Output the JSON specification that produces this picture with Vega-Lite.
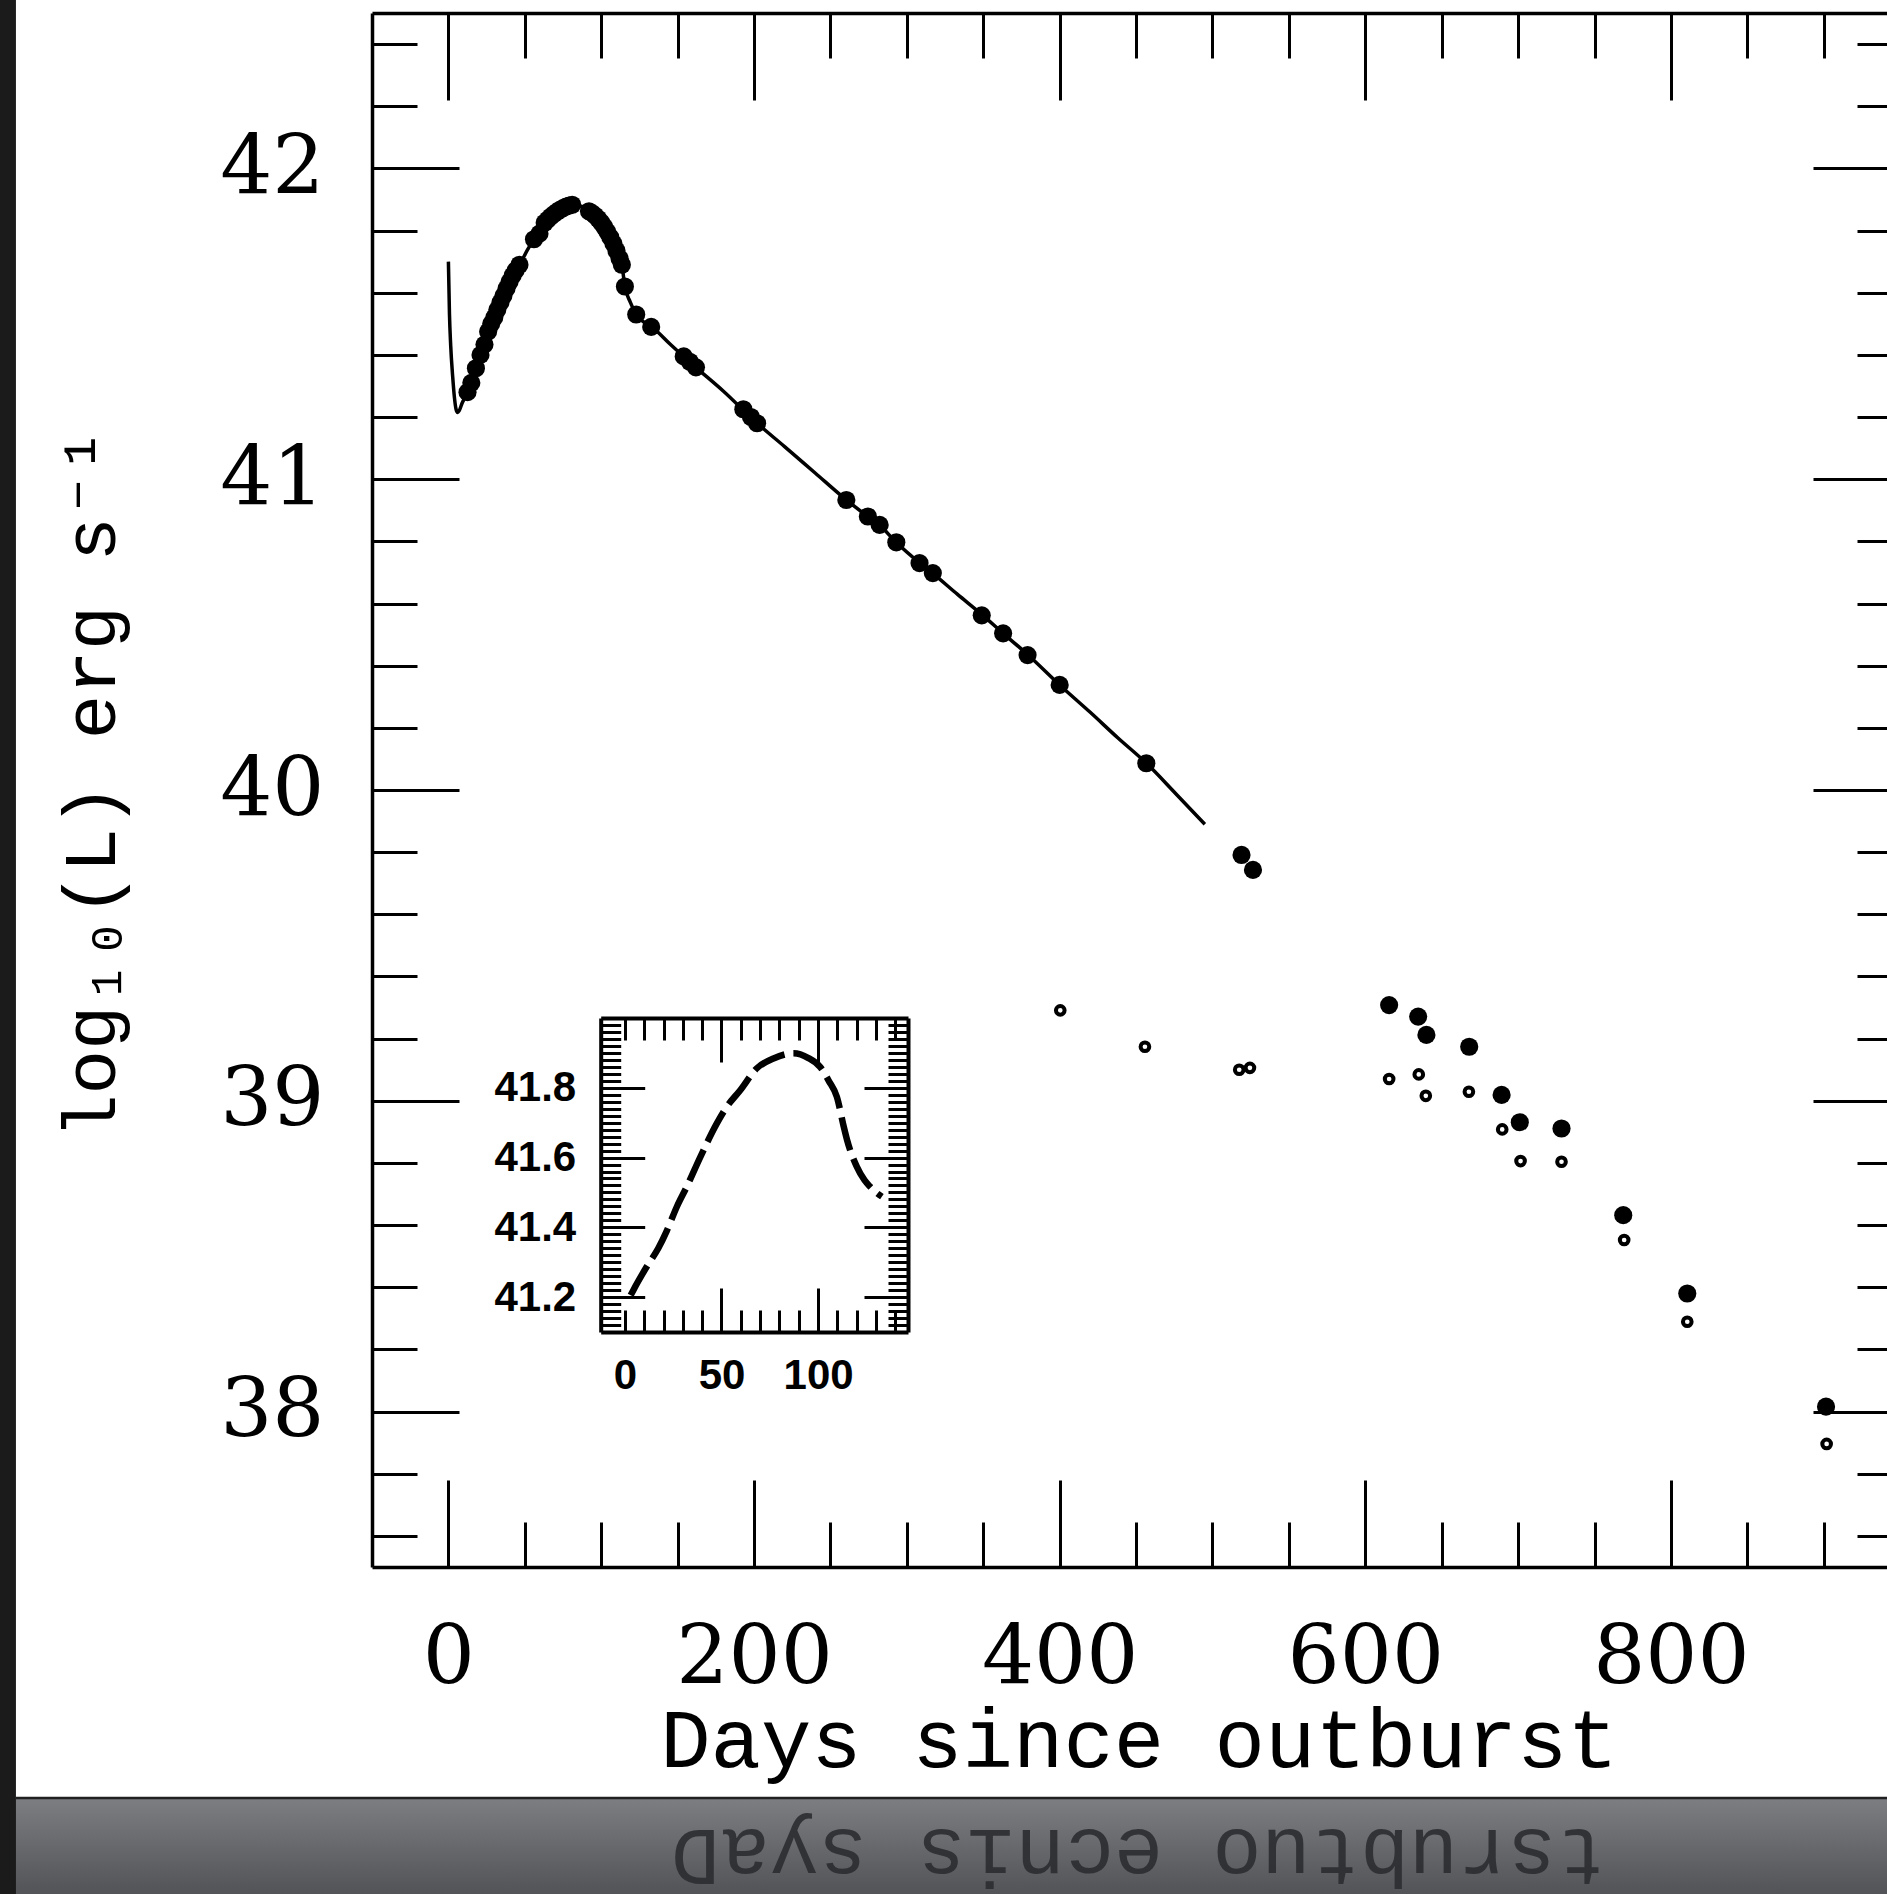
{
  "$schema": "https://vega.github.io/schema/vega-lite/v6.json",
  "width": 1515,
  "height": 1554,
  "autosize": {"type": "none"},
  "padding": {"left": 372, "top": 13, "right": 0, "bottom": 327},
  "background": "#1b1b1b",
  "config": {"view": {"stroke": null}, "axis": {"grid": false, "zindex": 1}},
  "datasets": {
    "model": [
      {"day": 0, "L": 41.70}, {"day": 0.7, "L": 41.53}, {"day": 1.5, "L": 41.43}, {"day": 2.8, "L": 41.33},
      {"day": 4, "L": 41.26}, {"day": 5, "L": 41.225}, {"day": 6, "L": 41.215}, {"day": 7, "L": 41.22},
      {"day": 9, "L": 41.245}, {"day": 12.5, "L": 41.28}, {"day": 18, "L": 41.357}, {"day": 23.6, "L": 41.433},
      {"day": 30, "L": 41.52}, {"day": 36, "L": 41.59}, {"day": 42, "L": 41.655}, {"day": 46.5, "L": 41.69},
      {"day": 52, "L": 41.74}, {"day": 57, "L": 41.78}, {"day": 62, "L": 41.82}, {"day": 67, "L": 41.845},
      {"day": 72, "L": 41.864}, {"day": 77, "L": 41.877}, {"day": 82, "L": 41.884}, {"day": 87, "L": 41.878},
      {"day": 92, "L": 41.862}, {"day": 97, "L": 41.843}, {"day": 102, "L": 41.812}, {"day": 107, "L": 41.768},
      {"day": 111, "L": 41.723}, {"day": 113.5, "L": 41.69}, {"day": 115.5, "L": 41.62}, {"day": 119, "L": 41.57},
      {"day": 123, "L": 41.53}, {"day": 128, "L": 41.505}, {"day": 133, "L": 41.49}, {"day": 145, "L": 41.435},
      {"day": 160, "L": 41.368}, {"day": 180, "L": 41.283}, {"day": 202, "L": 41.18}, {"day": 220, "L": 41.105},
      {"day": 240, "L": 41.02}, {"day": 260, "L": 40.935}, {"day": 275, "L": 40.878}, {"day": 282, "L": 40.853},
      {"day": 293, "L": 40.797}, {"day": 308, "L": 40.732}, {"day": 317, "L": 40.697}, {"day": 333, "L": 40.63},
      {"day": 349, "L": 40.565}, {"day": 363, "L": 40.504}, {"day": 379, "L": 40.436}, {"day": 400, "L": 40.338},
      {"day": 420, "L": 40.25}, {"day": 438, "L": 40.168}, {"day": 457, "L": 40.085}, {"day": 476, "L": 39.988},
      {"day": 495, "L": 39.89}
    ],
    "filled": [
      {"day": 12.5, "L": 41.28}, {"day": 15, "L": 41.31}, {"day": 18, "L": 41.357}, {"day": 21, "L": 41.4},
      {"day": 23.6, "L": 41.433}, {"day": 26, "L": 41.475}, {"day": 28, "L": 41.5}, {"day": 30, "L": 41.52},
      {"day": 32, "L": 41.545}, {"day": 34, "L": 41.568}, {"day": 36, "L": 41.59}, {"day": 38, "L": 41.613},
      {"day": 40, "L": 41.635}, {"day": 42, "L": 41.655}, {"day": 44, "L": 41.672}, {"day": 46.5, "L": 41.69},
      {"day": 56, "L": 41.772}, {"day": 59.6, "L": 41.79},
      {"day": 63, "L": 41.825}, {"day": 65, "L": 41.835}, {"day": 67, "L": 41.845}, {"day": 69, "L": 41.853},
      {"day": 71, "L": 41.86}, {"day": 73, "L": 41.867}, {"day": 75, "L": 41.872}, {"day": 77, "L": 41.877},
      {"day": 79, "L": 41.88}, {"day": 81, "L": 41.883},
      {"day": 92, "L": 41.862}, {"day": 94, "L": 41.856}, {"day": 96, "L": 41.848}, {"day": 98, "L": 41.838},
      {"day": 100, "L": 41.826}, {"day": 102, "L": 41.812}, {"day": 104, "L": 41.796}, {"day": 106, "L": 41.778},
      {"day": 108, "L": 41.758}, {"day": 110, "L": 41.735}, {"day": 112, "L": 41.71}, {"day": 113.5, "L": 41.69},
      {"day": 115.5, "L": 41.62}, {"day": 122.9, "L": 41.53}, {"day": 132.7, "L": 41.49},
      {"day": 154, "L": 41.395}, {"day": 158, "L": 41.378}, {"day": 162, "L": 41.36},
      {"day": 193, "L": 41.225}, {"day": 198, "L": 41.2}, {"day": 202, "L": 41.18},
      {"day": 260.4, "L": 40.933}, {"day": 274.5, "L": 40.88}, {"day": 282.2, "L": 40.853}, {"day": 293.1, "L": 40.797},
      {"day": 308.3, "L": 40.73}, {"day": 317, "L": 40.698}, {"day": 349, "L": 40.562}, {"day": 363, "L": 40.504},
      {"day": 379, "L": 40.434}, {"day": 400, "L": 40.338}, {"day": 456.7, "L": 40.086},
      {"day": 519, "L": 39.791}, {"day": 526.5, "L": 39.743},
      {"day": 615.6, "L": 39.308}, {"day": 634.6, "L": 39.271}, {"day": 640, "L": 39.212}, {"day": 668, "L": 39.174},
      {"day": 689.2, "L": 39.019}, {"day": 701.1, "L": 38.931}, {"day": 728.4, "L": 38.911}, {"day": 768.8, "L": 38.632},
      {"day": 810.7, "L": 38.38}, {"day": 901.5, "L": 38.016}
    ],
    "open": [
      {"day": 400.4, "L": 39.291}, {"day": 455.8, "L": 39.174}, {"day": 517.5, "L": 39.1}, {"day": 524.5, "L": 39.106},
      {"day": 615.6, "L": 39.07}, {"day": 635, "L": 39.085}, {"day": 639.6, "L": 39.016}, {"day": 667.8, "L": 39.029},
      {"day": 689.6, "L": 38.908}, {"day": 701.6, "L": 38.806}, {"day": 728.4, "L": 38.804}, {"day": 769.4, "L": 38.552},
      {"day": 810.7, "L": 38.289}, {"day": 901.9, "L": 37.896}
    ],
    "inset": [
      {"d": 3, "L": 41.205}, {"d": 4.4, "L": 41.22}, {"d": 11.3, "L": 41.287}, {"d": 17.3, "L": 41.34},
      {"d": 21.7, "L": 41.39}, {"d": 26.9, "L": 41.459}, {"d": 32, "L": 41.516}, {"d": 38.9, "L": 41.6},
      {"d": 47.6, "L": 41.698}, {"d": 52.8, "L": 41.746}, {"d": 59.7, "L": 41.793}, {"d": 68.3, "L": 41.856},
      {"d": 76.9, "L": 41.884}, {"d": 87.3, "L": 41.899}, {"d": 95, "L": 41.885}, {"d": 101, "L": 41.86},
      {"d": 105.5, "L": 41.82}, {"d": 109.7, "L": 41.774}, {"d": 113.2, "L": 41.69}, {"d": 115, "L": 41.65},
      {"d": 120, "L": 41.574}, {"d": 124, "L": 41.535}, {"d": 127, "L": 41.516}, {"d": 130, "L": 41.5},
      {"d": 133, "L": 41.488}
    ]
  },
  "resolve": {"scale": {"x": "independent", "y": "independent"}},
  "layer": [
    {
      "layer": [
        {
          "data": {"values": [{}]},
          "mark": {"type": "rect", "fill": "#ffffff", "clip": false},
          "encoding": {
            "x": {"datum": -283, "type": "quantitative", "scale": {"domain": [-50, 941.4], "nice": false, "zero": false}, "axis": null},
            "x2": {"datum": 941.4},
            "y": {"datum": 36.757, "type": "quantitative", "scale": {"domain": [37.5, 42.5], "nice": false, "zero": false}, "axis": null},
            "y2": {"datum": 42.6}
          }
        },
        {
          "data": {"values": [{}]},
          "mark": {"type": "rect", "clip": false, "fill": {"gradient": "linear", "x1": 0, "y1": 0, "x2": 0, "y2": 1, "stops": [{"offset": 0, "color": "#7c7e81"}, {"offset": 0.7, "color": "#505255"}, {"offset": 1, "color": "#45474a"}]}},
          "encoding": {
            "x": {"datum": -283, "type": "quantitative", "scale": {"domain": [-50, 941.4], "nice": false, "zero": false}, "axis": null},
            "x2": {"datum": 941.4},
            "y": {"datum": 36.3, "type": "quantitative", "scale": {"domain": [37.5, 42.5], "nice": false, "zero": false}, "axis": null},
            "y2": {"datum": 36.757}
          }
        },
        {
          "data": {"values": [{}]},
          "mark": {"type": "rule", "color": "#202020", "strokeWidth": 2.5, "clip": false},
          "encoding": {
            "x": {"datum": -283, "type": "quantitative", "scale": {"domain": [-50, 941.4], "nice": false, "zero": false}, "axis": null},
            "x2": {"datum": 941.4},
            "y": {"datum": 36.757, "type": "quantitative", "scale": {"domain": [37.5, 42.5], "nice": false, "zero": false}, "axis": null}
          }
        },
        {
          "data": {"values": [{}]},
          "mark": {"type": "text", "text": "tsrubtuo ecnis syaD", "angle": 180, "align": "center", "baseline": "alphabetic", "font": "Liberation Mono", "fontSize": 82, "color": "#2c2d30", "opacity": 0.9, "clip": false},
          "encoding": {
            "x": {"datum": 451.6, "type": "quantitative", "scale": {"domain": [-50, 941.4], "nice": false, "zero": false}, "axis": null},
            "y": {"datum": 36.655, "type": "quantitative", "scale": {"domain": [37.5, 42.5], "nice": false, "zero": false}, "axis": null}
          }
        },
        {
          "data": {"name": "model"},
          "mark": {"type": "line", "color": "black", "strokeWidth": 3.5, "interpolate": "monotone"},
          "encoding": {
            "x": {
              "field": "day", "type": "quantitative",
              "scale": {"domain": [-50, 941.4], "nice": false, "zero": false},
              "axis": {
                "orient": "bottom",
                "values": [0, 50, 100, 150, 200, 250, 300, 350, 400, 450, 500, 550, 600, 650, 700, 750, 800, 850, 900],
                "domain": true, "domainColor": "black", "domainWidth": 3.5,
                "ticks": true, "tickColor": "black", "tickWidth": 3,
                "tickSize": {"condition": {"test": "datum.value % 200 === 0", "value": -87}, "value": -45},
                "labelExpr": "datum.value % 200 === 0 ? format(datum.value, 'd') : ''",
                "labelFont": "DejaVu Serif", "labelFontSize": 82, "labelColor": "black",
                "labelBaseline": "alphabetic", "labelPadding": 203,
                "labelOverlap": false, "labelFlush": false, "labelBound": false,
                "title": "Days since outburst",
                "titleFont": "Liberation Mono", "titleFontSize": 84, "titleFontWeight": "normal", "titleColor": "black",
                "titleX": 766.5, "titleY": 199, "titleAlign": "center", "titleBaseline": "alphabetic",
                "zindex": 1
              }
            },
            "y": {
              "field": "L", "type": "quantitative",
              "scale": {"domain": [37.5, 42.5], "nice": false, "zero": false},
              "axis": {
                "orient": "left",
                "values": [37.6, 37.8, 38, 38.2, 38.4, 38.6, 38.8, 39, 39.2, 39.4, 39.6, 39.8, 40, 40.2, 40.4, 40.6, 40.8, 41, 41.2, 41.4, 41.6, 41.8, 42, 42.2, 42.4],
                "domain": true, "domainColor": "black", "domainWidth": 3.5,
                "ticks": true, "tickColor": "black", "tickWidth": 3,
                "tickSize": {"condition": {"test": "datum.value % 1 === 0", "value": -87}, "value": -45},
                "labelExpr": "datum.value % 1 === 0 ? format(datum.value, 'd') : ''",
                "labelFont": "DejaVu Serif", "labelFontSize": 82, "labelColor": "black",
                "labelBaseline": "middle", "labelPadding": 135,
                "labelOverlap": false, "labelFlush": false, "labelBound": false,
                "title": "log₁₀(L) erg s⁻¹",
                "titleFont": "Liberation Mono, DejaVu Sans Mono", "titleFontSize": 74, "titleFontWeight": "normal", "titleColor": "black",
                "titleX": -258, "titleY": 770, "titleAngle": 270, "titleAlign": "center", "titleBaseline": "alphabetic",
                "zindex": 1
              }
            }
          }
        },
        {
          "data": {"name": "filled"},
          "mark": {"type": "point", "filled": true, "color": "black", "opacity": 1, "size": 330},
          "encoding": {
            "x": {
              "field": "day", "type": "quantitative",
              "scale": {"domain": [-50, 941.4], "nice": false, "zero": false},
              "axis": {
                "orient": "top",
                "values": [0, 50, 100, 150, 200, 250, 300, 350, 400, 450, 500, 550, 600, 650, 700, 750, 800, 850, 900],
                "domain": true, "domainColor": "black", "domainWidth": 3.5,
                "ticks": true, "tickColor": "black", "tickWidth": 3,
                "tickSize": {"condition": {"test": "datum.value % 200 === 0", "value": -87}, "value": -45},
                "labels": false, "title": null, "zindex": 1
              }
            },
            "y": {
              "field": "L", "type": "quantitative",
              "scale": {"domain": [37.5, 42.5], "nice": false, "zero": false},
              "axis": {
                "orient": "right",
                "values": [37.6, 37.8, 38, 38.2, 38.4, 38.6, 38.8, 39, 39.2, 39.4, 39.6, 39.8, 40, 40.2, 40.4, 40.6, 40.8, 41, 41.2, 41.4, 41.6, 41.8, 42, 42.2, 42.4],
                "domain": false,
                "ticks": true, "tickColor": "black", "tickWidth": 3,
                "tickSize": {"condition": {"test": "datum.value % 1 === 0", "value": -74}, "value": -30},
                "labels": false, "title": null, "zindex": 1
              }
            }
          }
        },
        {
          "data": {"name": "open"},
          "mark": {"type": "point", "filled": false, "color": "black", "opacity": 1, "size": 75, "strokeWidth": 4},
          "encoding": {
            "x": {"field": "day", "type": "quantitative", "scale": {"domain": [-50, 941.4], "nice": false, "zero": false}, "axis": null},
            "y": {"field": "L", "type": "quantitative", "scale": {"domain": [37.5, 42.5], "nice": false, "zero": false}, "axis": null}
          }
        }
      ]
    },
    {
      "layer": [
        {
          "data": {"name": "inset"},
          "mark": {"type": "line", "color": "black", "strokeWidth": 6.5, "strokeDash": [34, 9], "interpolate": "monotone"},
          "encoding": {
            "x": {
              "field": "d", "type": "quantitative",
              "scale": {"domain": [-12.5, 146.5], "range": [228.7, 536], "nice": false, "zero": false},
              "axis": {
                "orient": "bottom", "offset": -235,
                "values": [0, 10, 20, 30, 40, 50, 60, 70, 80, 90, 100, 110, 120, 130, 140],
                "domain": true, "domainColor": "black", "domainWidth": 4,
                "ticks": true, "tickColor": "black", "tickWidth": 3,
                "tickSize": {"condition": {"test": "datum.value === 50 || datum.value === 100", "value": -44}, "value": -22},
                "labelExpr": "datum.value % 50 === 0 ? format(datum.value, 'd') : ''",
                "labelFont": "Liberation Sans", "labelFontWeight": "bold", "labelFontSize": 42, "labelColor": "black",
                "labelBaseline": "alphabetic",
                "labelPadding": {"condition": {"test": "datum.value === 0", "value": 78}, "value": 100},
                "labelOverlap": false, "labelFlush": false, "labelBound": false,
                "title": null, "zindex": 1
              }
            },
            "y": {
              "field": "L", "type": "quantitative",
              "scale": {"domain": [41.1, 42.0], "range": [1319, 1005], "nice": false, "zero": false},
              "axis": {
                "orient": "left", "offset": -228.7,
                "values": [41.12, 41.14, 41.16, 41.18, 41.2, 41.22, 41.24, 41.26, 41.28, 41.3, 41.32, 41.34, 41.36, 41.38, 41.4, 41.42, 41.44, 41.46, 41.48, 41.5, 41.52, 41.54, 41.56, 41.58, 41.6, 41.62, 41.64, 41.66, 41.68, 41.7, 41.72, 41.74, 41.76, 41.78, 41.8, 41.82, 41.84, 41.86, 41.88, 41.9, 41.92, 41.94, 41.96, 41.98],
                "domain": true, "domainColor": "black", "domainWidth": 4,
                "ticks": true, "tickColor": "black", "tickWidth": 3,
                "tickSize": {"condition": {"test": "round(datum.value * 100) % 20 === 0", "value": -44}, "value": -20},
                "labelExpr": "round(datum.value * 100) % 20 === 0 ? format(datum.value, '.1f') : ''",
                "labelFont": "Liberation Sans", "labelFontWeight": "bold", "labelFontSize": 42, "labelColor": "black",
                "labelBaseline": "middle", "labelPadding": 69,
                "labelOverlap": false, "labelFlush": false, "labelBound": false,
                "title": null, "zindex": 1
              }
            }
          }
        },
        {
          "data": {"name": "inset"},
          "mark": {"type": "point", "opacity": 0},
          "encoding": {
            "x": {
              "field": "d", "type": "quantitative",
              "scale": {"domain": [-12.5, 146.5], "range": [228.7, 536], "nice": false, "zero": false},
              "axis": {
                "orient": "top", "offset": -1005,
                "values": [0, 10, 20, 30, 40, 50, 60, 70, 80, 90, 100, 110, 120, 130, 140],
                "domain": true, "domainColor": "black", "domainWidth": 4,
                "ticks": true, "tickColor": "black", "tickWidth": 3,
                "tickSize": {"condition": {"test": "datum.value === 50 || datum.value === 100", "value": -44}, "value": -22},
                "labels": false, "title": null, "zindex": 1
              }
            },
            "y": {
              "field": "L", "type": "quantitative",
              "scale": {"domain": [41.1, 42.0], "range": [1319, 1005], "nice": false, "zero": false},
              "axis": {
                "orient": "right", "offset": -979,
                "values": [41.12, 41.14, 41.16, 41.18, 41.2, 41.22, 41.24, 41.26, 41.28, 41.3, 41.32, 41.34, 41.36, 41.38, 41.4, 41.42, 41.44, 41.46, 41.48, 41.5, 41.52, 41.54, 41.56, 41.58, 41.6, 41.62, 41.64, 41.66, 41.68, 41.7, 41.72, 41.74, 41.76, 41.78, 41.8, 41.82, 41.84, 41.86, 41.88, 41.9, 41.92, 41.94, 41.96, 41.98],
                "domain": true, "domainColor": "black", "domainWidth": 4,
                "ticks": true, "tickColor": "black", "tickWidth": 3,
                "tickSize": {"condition": {"test": "round(datum.value * 100) % 20 === 0", "value": -44}, "value": -20},
                "labels": false, "title": null, "zindex": 1
              }
            }
          }
        }
      ]
    }
  ]
}
